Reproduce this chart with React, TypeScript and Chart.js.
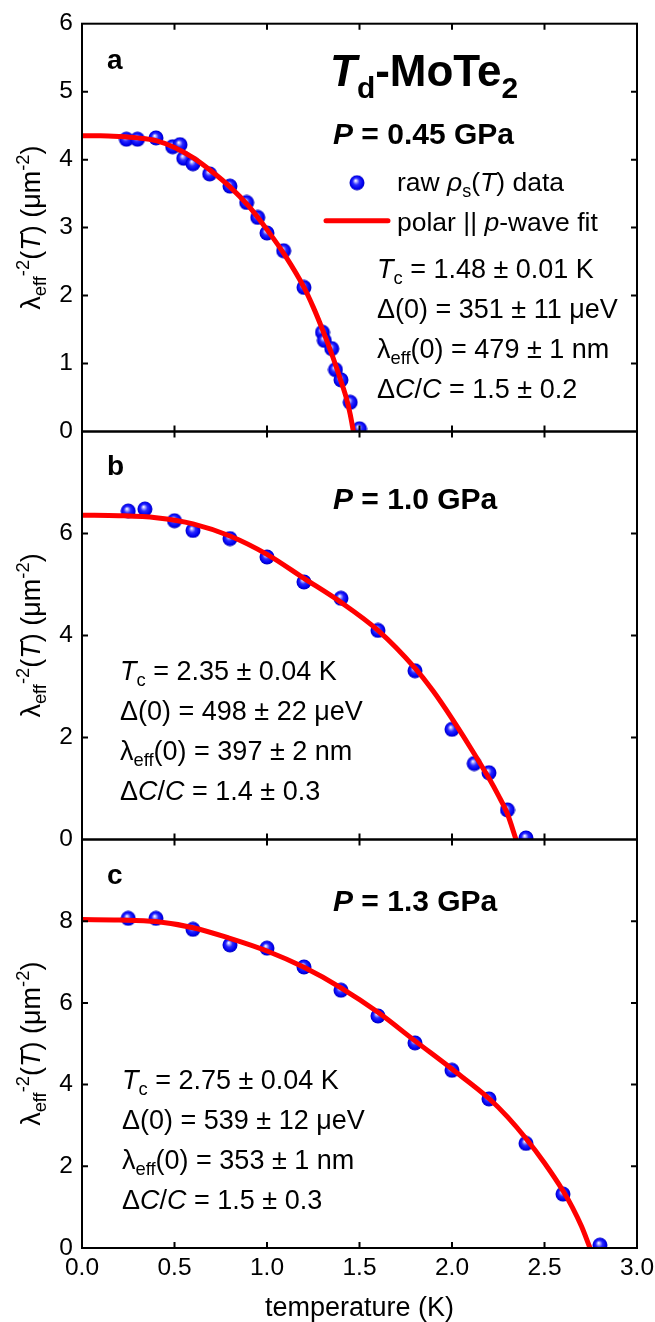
import React, { useEffect, useRef } from 'react';
import { Chart, registerables } from 'chart.js';

Chart.register(...registerables);

// ---------------- data ----------------
const xTickValues = [0, 0.5, 1.0, 1.5, 2.0, 2.5, 3.0];

// panel a : P = 0.45 GPa
const tempA = [0.24, 0.30, 0.40, 0.49, 0.53, 0.55, 0.60, 0.69, 0.80, 0.89, 0.95, 1.00, 1.09, 1.20, 1.30, 1.31, 1.35, 1.37, 1.40, 1.45, 1.50];
const rhoA = [4.30, 4.30, 4.32, 4.19, 4.22, 4.02, 3.94, 3.79, 3.61, 3.37, 3.15, 2.92, 2.66, 2.12, 1.46, 1.34, 1.22, 0.91, 0.76, 0.43, 0.04];
const fitTempA = [0, 0.1, 0.2, 0.3, 0.4, 0.5, 0.6, 0.7, 0.8, 0.9, 1.0, 1.1, 1.2, 1.25, 1.3, 1.35, 1.4, 1.43, 1.45, 1.467];
const fitRhoA = [4.35, 4.35, 4.34, 4.32, 4.28, 4.18, 4.03, 3.83, 3.60, 3.32, 2.97, 2.58, 2.12, 1.83, 1.50, 1.14, 0.74, 0.48, 0.25, 0.0];

// panel b : P = 1.0 GPa
const tempB = [0.25, 0.34, 0.50, 0.60, 0.80, 1.00, 1.20, 1.40, 1.60, 1.80, 2.00, 2.12, 2.20, 2.30, 2.40];
const rhoB = [6.44, 6.48, 6.25, 6.06, 5.90, 5.54, 5.05, 4.73, 4.10, 3.31, 2.16, 1.49, 1.31, 0.58, 0.03];
const fitTempB = [0, 0.2, 0.4, 0.6, 0.8, 1.0, 1.2, 1.4, 1.6, 1.8, 1.9, 2.0, 2.1, 2.2, 2.25, 2.3, 2.346];
const fitRhoB = [6.36, 6.35, 6.31, 6.19, 5.95, 5.59, 5.12, 4.65, 4.10, 3.36, 2.90, 2.37, 1.80, 1.20, 0.87, 0.50, 0.0];

// panel c : P = 1.3 GPa
const tempC = [0.25, 0.40, 0.60, 0.80, 1.00, 1.20, 1.40, 1.60, 1.80, 2.00, 2.20, 2.40, 2.60, 2.80];
const rhoC = [8.07, 8.07, 7.80, 7.42, 7.34, 6.88, 6.31, 5.68, 5.02, 4.35, 3.65, 2.56, 1.32, 0.07];
const fitTempC = [0, 0.2, 0.4, 0.6, 0.8, 1.0, 1.2, 1.4, 1.6, 1.8, 2.0, 2.2, 2.3, 2.4, 2.5, 2.6, 2.65, 2.7, 2.746];
const fitRhoC = [8.04, 8.03, 7.99, 7.84, 7.58, 7.27, 6.87, 6.37, 5.77, 5.07, 4.38, 3.66, 3.21, 2.68, 2.08, 1.40, 1.00, 0.53, 0.0];

// text
const panelLetters = ['a', 'b', 'c'];
const pressureTexts = ['0.45', '1.0', '1.3'];
const tcTexts = ['1.48 ± 0.01', '2.35 ± 0.04', '2.75 ± 0.04'];
const gapTexts = ['351 ± 11', '498 ± 22', '539 ± 12'];
const lambdaTexts = ['479 ± 1', '397 ± 2', '353 ± 1'];
const dcTexts = ['1.5 ± 0.2', '1.4 ± 0.3', '1.5 ± 0.3'];
const yMaxes = [6, 8, 10];
const yStepSizes = [1, 2, 2];
const xTitle = 'temperature (K)';

// ---------------- layout / style ----------------
const W = 655;
const H = 1322;
const FONT = '"Liberation Sans", Arial, Helvetica, sans-serif';
const PLOT_LEFT = 82;
const PLOT_RIGHT = 637;
const PANEL_EDGES = [23, 431.5, 839.5, 1248];
const X_AXIS_H = H - PANEL_EDGES[3];

type Seg = { t: string; i?: boolean; b?: boolean; sub?: boolean; sup?: boolean };

function drawRich(
  ctx: CanvasRenderingContext2D,
  segs: Seg[],
  x: number,
  y: number,
  size: number,
  bold = false,
  align: 'left' | 'center' = 'left',
  subShift = 0.24
) {
  const pieces = segs.map((s) => {
    const sz = s.sub || s.sup ? size * 0.68 : size;
    const font = `${s.i ? 'italic ' : ''}${bold || s.b ? 'bold ' : ''}${sz}px ${FONT}`;
    ctx.font = font;
    const w = ctx.measureText(s.t).width;
    const dy = s.sub ? size * subShift : s.sup ? -size * 0.4 : 0;
    return { t: s.t, font, w, dy };
  });
  const total = pieces.reduce((a, p) => a + p.w, 0);
  let cx = align === 'center' ? x - total / 2 : x;
  ctx.textAlign = 'left';
  ctx.textBaseline = 'alphabetic';
  for (const p of pieces) {
    ctx.font = p.font;
    ctx.fillText(p.t, cx, y + p.dy);
    cx += p.w;
  }
}

function makeSphere(): HTMLCanvasElement {
  const c = document.createElement('canvas');
  c.width = 16;
  c.height = 16;
  const g = c.getContext('2d')!;
  const grad = g.createRadialGradient(6.6, 5.8, 0.4, 8, 8, 7.6);
  grad.addColorStop(0, '#f4f4ff');
  grad.addColorStop(0.18, '#9a9aff');
  grad.addColorStop(0.42, '#2a2aff');
  grad.addColorStop(0.8, '#0000f0');
  grad.addColorStop(1, '#0000b8');
  g.fillStyle = grad;
  g.beginPath();
  g.arc(8, 8, 7.5, 0, Math.PI * 2);
  g.fill();
  return c;
}

interface PanelDef {
  idx: number;
  temps: number[];
  vals: number[];
  fitT: number[];
  fitV: number[];
  top: number;
  bottom: number;
  last: boolean;
}

const panelDefs: PanelDef[] = [
  { idx: 0, temps: tempA, vals: rhoA, fitT: fitTempA, fitV: fitRhoA, top: PANEL_EDGES[0], bottom: PANEL_EDGES[1], last: false },
  { idx: 1, temps: tempB, vals: rhoB, fitT: fitTempB, fitV: fitRhoB, top: PANEL_EDGES[1], bottom: PANEL_EDGES[2], last: false },
  { idx: 2, temps: tempC, vals: rhoC, fitT: fitTempC, fitV: fitRhoC, top: PANEL_EDGES[2], bottom: PANEL_EDGES[3], last: true },
];

// annotation offsets relative to chart area (left, top)
const notePos = [
  { letter: [25, 45], pressure: [251, 120], params: [295, 254], legend: true },
  { letter: [25, 43.5], pressure: [251, 77], params: [38, 248.5], legend: false },
  { letter: [25, 44], pressure: [251, 71], params: [40, 249], legend: false },
];
const PARAM_GAP = 40;
const PARAM_FONT = 27;
const LEGEND_FONT = 26.5;

function buildChart(canvas: HTMLCanvasElement, p: PanelDef, sphere: HTMLCanvasElement) {
  const i = p.idx;
  const yMax = yMaxes[i];
  const pos = notePos[i];

  const framePlugin = {
    id: 'frameNotes' + i,
    afterDraw(chart: any) {
      const ctx: CanvasRenderingContext2D = chart.ctx;
      const { left, right, top, bottom } = chart.chartArea;
      const xs = chart.scales.x;
      const ys = chart.scales.y;
      ctx.save();
      ctx.strokeStyle = '#000';
      ctx.fillStyle = '#000';
      ctx.lineWidth = 2;
      ctx.strokeRect(left, top, right - left, bottom - top);
      // inward ticks
      const TL = 6;
      ctx.beginPath();
      for (const v of xTickValues) {
        if (v <= 0 || v >= 3) continue;
        const px = xs.getPixelForValue(v);
        ctx.moveTo(px, top);
        ctx.lineTo(px, top + TL);
        ctx.moveTo(px, bottom);
        ctx.lineTo(px, bottom - TL);
      }
      for (const t of ys.ticks) {
        if (t.value <= 0 || t.value >= yMax) continue;
        const py = ys.getPixelForValue(t.value);
        ctx.moveTo(left, py);
        ctx.lineTo(left + TL, py);
        ctx.moveTo(right, py);
        ctx.lineTo(right - TL, py);
      }
      ctx.stroke();

      // y axis title (rotated)
      ctx.save();
      ctx.translate(40, (top + bottom) / 2);
      ctx.rotate(-Math.PI / 2);
      drawRich(
        ctx,
        [
          { t: 'λ' },
          { t: 'eff', sub: true },
          { t: '-2', sup: true },
          { t: '(' },
          { t: 'T', i: true },
          { t: ') (μm' },
          { t: '-2', sup: true },
          { t: ')' },
        ],
        0,
        0,
        27,
        false,
        'center',
        0.22
      );
      ctx.restore();

      // panel letter
      drawRich(ctx, [{ t: panelLetters[i] }], left + pos.letter[0], top + pos.letter[1], 28, true);
      // pressure
      drawRich(
        ctx,
        [{ t: 'P', i: true }, { t: ' = ' + pressureTexts[i] + ' GPa' }],
        left + pos.pressure[0],
        top + pos.pressure[1],
        30,
        true
      );
      // parameters
      const px0 = left + pos.params[0];
      const py0 = top + pos.params[1];
      const fs = PARAM_FONT;
      drawRich(ctx, [{ t: 'T', i: true }, { t: 'c', sub: true }, { t: ' = ' + tcTexts[i] + ' K' }], px0, py0, fs);
      drawRich(ctx, [{ t: 'Δ(0) = ' + gapTexts[i] + ' μeV' }], px0, py0 + PARAM_GAP, fs);
      drawRich(ctx, [{ t: 'λ' }, { t: 'eff', sub: true }, { t: '(0) = ' + lambdaTexts[i] + ' nm' }], px0, py0 + 2 * PARAM_GAP, fs);
      drawRich(
        ctx,
        [{ t: 'Δ' }, { t: 'C', i: true }, { t: '/' }, { t: 'C', i: true }, { t: ' = ' + dcTexts[i] }],
        px0,
        py0 + 3 * PARAM_GAP,
        fs
      );

      if (pos.legend) {
        // compound title
        drawRich(
          ctx,
          [{ t: 'T', i: true }, { t: 'd', sub: true }, { t: '-MoTe' }, { t: '2', sub: true }],
          left + 248,
          top + 62,
          44,
          true,
          'left',
          0.27
        );
        // legend
        ctx.drawImage(sphere, left + 275 - 8, top + 159 - 8);
        ctx.strokeStyle = '#ff0000';
        ctx.lineWidth = 5;
        ctx.lineCap = 'round';
        ctx.beginPath();
        ctx.moveTo(left + 244, top + 197);
        ctx.lineTo(left + 306, top + 197);
        ctx.stroke();
        ctx.fillStyle = '#000';
        drawRich(
          ctx,
          [{ t: 'raw ' }, { t: 'ρ', i: true }, { t: 's', sub: true }, { t: '(' }, { t: 'T', i: true }, { t: ') data' }],
          left + 315,
          top + 167,
          LEGEND_FONT
        );
        drawRich(ctx, [{ t: 'polar || ' }, { t: 'p', i: true }, { t: '-wave fit' }], left + 315, top + 207, LEGEND_FONT);
      }
      ctx.restore();
    },
  };

  const xScale: any = p.last
    ? {
        type: 'linear',
        min: 0,
        max: 3,
        position: 'bottom',
        grid: { display: false, drawTicks: false },
        border: { display: false },
        ticks: {
          stepSize: 0.5,
          padding: 6,
          maxRotation: 0,
          minRotation: 0,
          color: '#000',
          font: { family: FONT, size: 24.5 },
          callback: (v: number) => Number(v).toFixed(1),
        },
        title: {
          display: true,
          text: xTitle,
          color: '#000',
          font: { family: FONT, size: 27, lineHeight: 1 },
          padding: { top: 0, bottom: 0 },
        },
        afterFit: (s: any) => {
          s.height = X_AXIS_H;
          s.paddingLeft = 0;
          s.paddingRight = 0;
        },
      }
    : { type: 'linear', min: 0, max: 3, display: false };

  return new Chart(canvas, {
    type: 'scatter',
    data: {
      datasets: [
        {
          type: 'line',
          label: 'polar || p-wave fit',
          data: p.fitT.map((t, k) => ({ x: t, y: p.fitV[k] })),
          borderColor: '#ff0000',
          borderWidth: 5,
          pointRadius: 0,
          fill: false,
          cubicInterpolationMode: 'monotone',
          order: 0,
          clip: 2,
        } as any,
        {
          label: 'raw ρs(T) data',
          data: p.temps.map((t, k) => ({ x: t, y: p.vals[k] })),
          pointStyle: sphere as any,
          pointRadius: 7.5,
          showLine: false,
          order: 1,
          clip: 0,
        } as any,
      ],
    },
    options: {
      animation: false,
      responsive: false,
      maintainAspectRatio: false,
      events: [],
      layout: {
        padding: {
          left: 0,
          right: W - PLOT_RIGHT,
          top: p.top,
          bottom: p.last ? 0 : H - p.bottom,
        },
      },
      plugins: { legend: { display: false }, tooltip: { enabled: false } },
      scales: {
        x: xScale,
        y: {
          type: 'linear',
          min: 0,
          max: yMax,
          position: 'left',
          grid: { display: false, drawTicks: false },
          border: { display: false },
          ticks: {
            stepSize: yStepSizes[i],
            padding: 9,
            color: '#000',
            font: { family: FONT, size: 24.5 },
            callback: (v: number) => (v === yMax && i > 0 ? '' : String(v)),
          },
          afterFit: (s: any) => {
            s.width = PLOT_LEFT;
          },
        } as any,
      },
    } as any,
    plugins: [framePlugin],
  });
}

export default function App() {
  const refA = useRef<HTMLCanvasElement>(null);
  const refB = useRef<HTMLCanvasElement>(null);
  const refC = useRef<HTMLCanvasElement>(null);

  useEffect(() => {
    const sphere = makeSphere();
    const refs = [refA, refB, refC];
    const charts = panelDefs.map((p, k) => buildChart(refs[k].current!, p, sphere));
    return () => charts.forEach((c) => c.destroy());
  }, []);

  const cStyle: React.CSSProperties = { position: 'absolute', left: 0, top: 0, width: W, height: H };
  return (
    <div style={{ position: 'absolute', left: 0, top: 0, width: W, height: H, background: '#fff' }}>
      <canvas ref={refA} width={W} height={H} style={cStyle} />
      <canvas ref={refB} width={W} height={H} style={cStyle} />
      <canvas ref={refC} width={W} height={H} style={cStyle} />
    </div>
  );
}
